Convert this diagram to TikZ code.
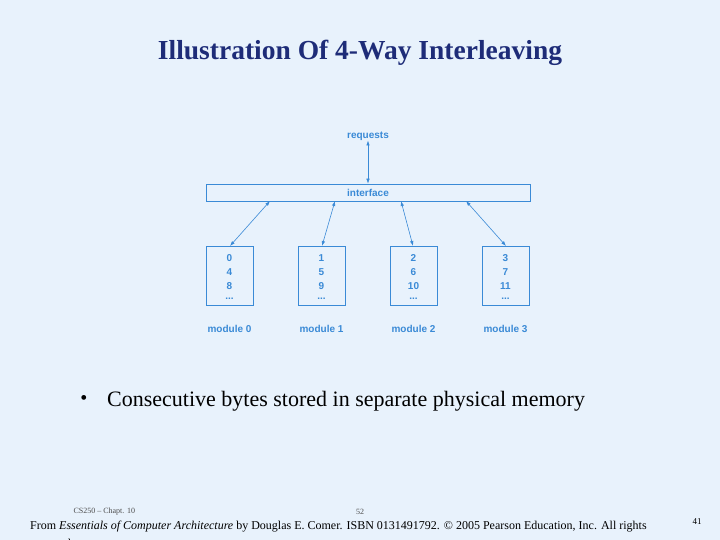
\documentclass[tikz,border=0pt]{standalone}
\usepackage{fontspec}
\setmainfont{Liberation Serif}
\newfontfamily\dsans{Liberation Sans}
\usetikzlibrary{arrows.meta}
\begin{document}
\begin{tikzpicture}[x=1pt,y=-1pt,
  dblue/.style={draw=diag,line width=0.6pt},
  lbl/.style={text=diag,font=\dsans\bfseries\fontsize{10}{11}\selectfont,inner sep=0pt},
  mod/.style={dblue,minimum width=47pt,minimum height=59pt,inner sep=0pt},
  arr/.style={diag,line width=0.6pt,{Latex[length=5pt,width=3.5pt]}-{Latex[length=5pt,width=3.5pt]}}]
\definecolor{bg}{HTML}{E8F2FC}
\definecolor{diag}{HTML}{3A8AD6}
\definecolor{ttl}{HTML}{1E2C78}
\fill[bg] (0,0) rectangle (720,540);
\useasboundingbox (0,0) rectangle (720,540);
\node[text=ttl,font=\bfseries\fontsize{27.5}{30}\selectfont] (title) at (360,53) {Illustration Of 4-Way Interleaving};
\node[lbl] (req) at (368,136) {requests};
\node[dblue,minimum width=324pt,minimum height=17pt,inner sep=0pt,lbl,draw=diag] (if) at (368,192.5) {interface};
\foreach \i/\x/\a/\b/\c in {0/229.5/0/4/8,1/321.5/1/5/9,2/413.5/2/6/10,3/505.5/3/7/11}{
  \node[mod] (m\i) at (\x,275.5) {};
  \node[lbl] (a\i) at (\x,258) {\a};
  \node[lbl] (b\i) at (\x,272) {\b};
  \node[lbl] (c\i) at (\x,286) {\c};
  \node[lbl] (d\i) at (\x,299) {...};
  \node[lbl] (n\i) at (\x,329) {module \i};
}
\coordinate (i0) at (270,201);
\coordinate (i1) at (335,201);
\coordinate (i2) at (401,201);
\coordinate (i3) at (466,201);
\coordinate (t0) at (230,246);
\coordinate (t1) at (322,246);
\coordinate (t2) at (413,246);
\coordinate (t3) at (506,246);
\foreach \i in {0,1,2,3}{\draw[arr] (t\i) -- (i\i);}
\draw[arr] (req.south) -- (if.north);
\node[font=\fontsize{20}{22}\selectfont] (dot) at (84,400) {\textbullet};
\node[font=\fontsize{22}{24}\selectfont,anchor=west,inner sep=0pt] (bul) at (107,401) {Consecutive bytes stored in separate physical memory};
\node[font=\fontsize{8}{9}\selectfont,text=black!70,anchor=west] (cs) at (70,512) {CS250 -- Chapt. 10};
\node[font=\fontsize{8}{9}\selectfont,text=black!70] (pg) at (360,512) {52};
\node[font=\fontsize{12}{13}\selectfont,anchor=west,inner sep=0pt] (from) at (30,527) {From \textit{Essentials of Computer Architecture} by Douglas E. Comer. ISBN 0131491792. \textcopyright{} 2005 Pearson Education, Inc. All rights};
\node[font=\fontsize{12}{13}\selectfont,anchor=west,inner sep=0pt] (res) at (30,543) {reserved.};
\node[font=\fontsize{9}{10}\selectfont] (n41) at (697,522) {41};
\end{tikzpicture}
\end{document}
